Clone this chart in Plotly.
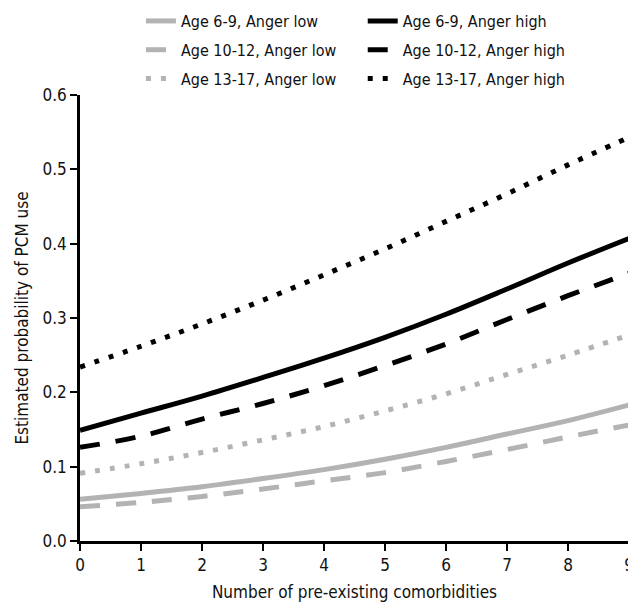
import plotly.graph_objects as go

x_vals = [0, 1, 2, 3, 4, 5, 6, 7, 8, 9]

age69_low = [0.056, 0.064, 0.073, 0.084, 0.096, 0.110, 0.126, 0.144, 0.162, 0.183]
age69_high = [0.149, 0.172, 0.195, 0.220, 0.246, 0.274, 0.305, 0.339, 0.374, 0.407]
age1012_low = [0.046, 0.052, 0.060, 0.070, 0.081, 0.092, 0.107, 0.123, 0.140, 0.156]
age1012_high = [0.126, 0.141, 0.164, 0.185, 0.209, 0.236, 0.265, 0.298, 0.330, 0.360]
age1317_low = [0.091, 0.104, 0.119, 0.136, 0.154, 0.175, 0.198, 0.224, 0.250, 0.277]
age1317_high = [0.234, 0.262, 0.292, 0.324, 0.358, 0.393, 0.430, 0.467, 0.506, 0.543]

names = [
    "Age 6-9, Anger low", "Age 6-9, Anger high",
    "Age 10-12, Anger low", "Age 10-12, Anger high",
    "Age 13-17, Anger low", "Age 13-17, Anger high",
]
series = [age69_low, age69_high, age1012_low, age1012_high, age1317_low, age1317_high]
GRAY = "#b3b3b3"
BLACK = "#000000"
colors = [GRAY, BLACK, GRAY, BLACK, GRAY, BLACK]
dashes = ["solid", "solid", "20px,16px", "20px,16px", "5px,10px", "5px,10px"]
legends = ["legend", "legend2", "legend", "legend2", "legend", "legend2"]

FONT = "DejaVu Sans Condensed, Liberation Sans Narrow, Arial Narrow, sans-serif"

fig = go.Figure()
for i, (n, s, c, d, lg) in enumerate(zip(names, series, colors, dashes, legends)):
    fig.add_trace(go.Scatter(
        x=x_vals, y=s, name=n, mode="lines", legend=lg, legendgroup=f"g{i}",
        line=dict(color=c, width=5, dash=d, shape="spline"),
    ))

leg_common = dict(
    orientation="v", yanchor="top", xanchor="left", y=1.204,
    font=dict(size=16, color="#111"), bgcolor="rgba(0,0,0,0)", tracegroupgap=5,
)

# page body adds an 8px offset, so the figure is 8px smaller on each axis
fig.update_layout(
    width=628, height=595,
    margin=dict(l=72, r=7, t=87, b=62, autoexpand=False),
    paper_bgcolor="white", plot_bgcolor="white",
    font=dict(family=FONT, size=17, color="#111"),
    legend=dict(x=0.111, **leg_common),
    legend2=dict(x=0.515, **leg_common),
    showlegend=True,
)
fig.update_xaxes(
    range=[0, 9], tickvals=x_vals, showgrid=False, zeroline=False, automargin=False,
    showline=True, linecolor=BLACK, linewidth=2.5,
    ticks="outside", ticklen=7, tickwidth=2, tickcolor=BLACK,
    tickfont=dict(size=17), ticklabeloverflow="allow",
    title=dict(text="Number of pre-existing comorbidities", font=dict(size=17), standoff=12),
)
fig.update_yaxes(
    range=[0, 0.6], tickvals=[0, 0.1, 0.2, 0.3, 0.4, 0.5, 0.6], tickformat=".1f",
    showgrid=False, zeroline=False, automargin=False,
    showline=True, linecolor=BLACK, linewidth=2.5,
    ticks="outside", ticklen=7, tickwidth=2, tickcolor=BLACK,
    tickfont=dict(size=17), ticklabeloverflow="allow",
    title=dict(text="Estimated probability of PCM use", font=dict(size=17), standoff=10),
)

fig.write_html("out.html")
